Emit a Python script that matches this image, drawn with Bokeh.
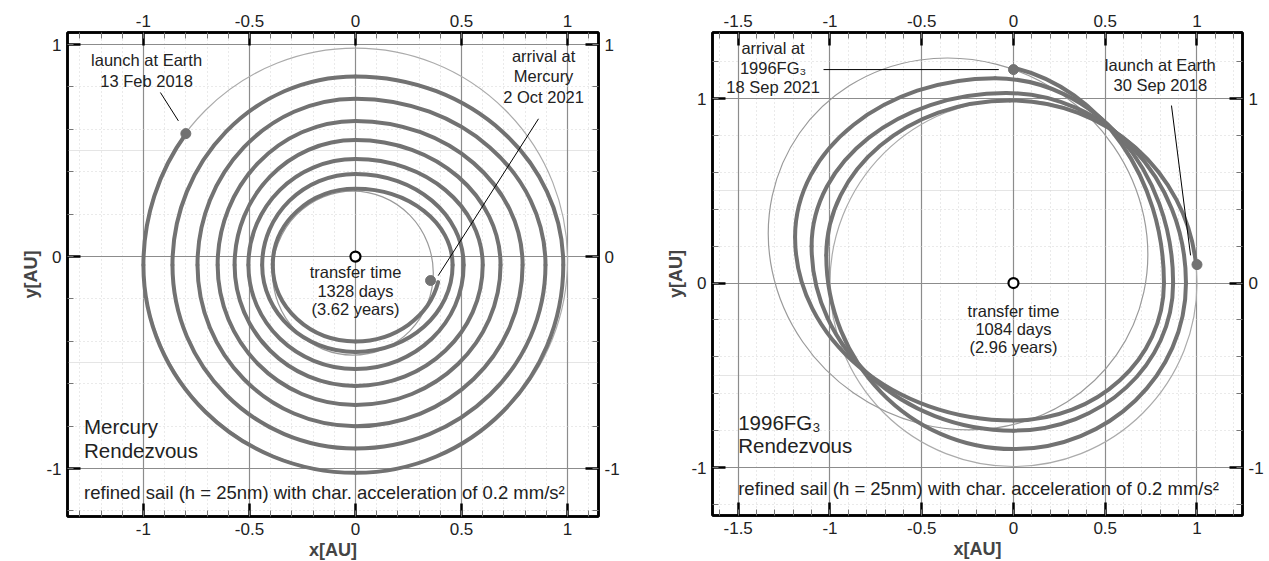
import math
from bokeh.plotting import figure
from bokeh.layouts import row
from bokeh.models import LinearAxis, FixedTicker, Range1d, ColumnDataSource, Grid
from bokeh.embed import file_html
from bokeh.resources import INLINE
from bokeh.core.properties import value

FONT = "Liberation Sans"

# ---------------- data ----------------
# left panel: Mercury rendezvous
L_xlim = (-1.358, 1.146)
L_ylim = (-1.226, 1.057)
L_xticks = [-1, -0.5, 0, 0.5, 1]
L_xtick_labels = ["-1", "-0.5", "0", "0.5", "1"]
L_yticks = [-1, 0, 1]
L_ytick_labels = ["-1", "0", "1"]
# spiral extreme points in counter-clockwise order, starting with a (virtual) top point
L_ext_x = [0.0, -1.00, 0.0, 0.98, 0.0, -0.863, 0.0, 0.896, 0.0, -0.745, 0.0, 0.788, 0.0, -0.65, 0.0, 0.684,
           0.0, -0.57, 0.0, 0.60, 0.0, -0.505, 0.0, 0.51, 0.0, -0.44, 0.0, 0.458, 0.0, -0.39, 0.0, 0.40]
L_ext_y = [0.99, -0.04, -1.02, -0.04, 0.85, -0.04, -0.905, -0.04, 0.745, -0.04, -0.80, -0.04, 0.64, -0.04, -0.70, -0.04,
           0.55, -0.04, -0.61, -0.04, 0.46, -0.04, -0.53, -0.04, 0.39, -0.04, -0.45, -0.04, 0.32, -0.04, -0.40, -0.04]
L_launch = (-0.80, 0.58)
L_arrive = (0.354, -0.113)
L_earth = dict(x=0.0, y=-0.017, r=1.0)
L_merc = dict(x=-0.012, y=-0.078, w=0.758, h=0.774)

# right panel: 1996FG3 rendezvous
R_xlim = (-1.640, 1.248)
R_ylim = (-1.260, 1.358)
R_xticks = [-1.5, -1, -0.5, 0, 0.5, 1]
R_xtick_labels = ["-1.5", "-1", "-0.5", "0", "0.5", "1"]
R_yticks = [-1, 0, 1]
R_ytick_labels = ["-1", "0", "1"]
# extreme points, counter-clockwise, starting with a (virtual) right point
R_ext_x = [1.00, -0.02, -1.02, 0.00, 0.94, -0.04, -1.10, 0.00, 0.87, -0.10, -1.19, 0.00, 0.82, -0.20]
R_ext_y = [0.00, 0.99, 0.15, -0.90, 0.00, 1.03, 0.20, -0.80, 0.00, 1.11, 0.25, -0.745, 0.00, 1.19]
R_launch = (1.0, 0.10)
R_arrive = (0.0, 1.157)
R_earth = dict(x=0.0, y=0.0, r=1.0)
R_ast = dict(x=-0.302, y=0.212, w=2.108, h=1.974, angle_deg=145.0)

TRAJ_COLOR = "#727272"
THIN_COLOR = "#ababab"


def spiral_beziers(ex, ey, first_kind, start, end):
    """Quarter-ellipse pieces between successive extreme points, as cubic beziers."""
    kinds = ["R", "T", "L", "B"]
    base = {"R": 0.0, "T": 0.5 * math.pi, "L": math.pi, "B": 1.5 * math.pi}
    k0 = kinds.index(first_kind)
    cols = {k: [] for k in ["x0", "y0", "x1", "y1", "cx0", "cy0", "cx1", "cy1"]}
    n = len(ex) - 1
    for i in range(n):
        kind = kinds[(k0 + i) % 4]
        ax_, ay_ = ex[i], ey[i]
        bx_, by_ = ex[i + 1], ey[i + 1]
        if kind in ("T", "B"):
            cx, cy = ax_, by_
        else:
            cx, cy = bx_, ay_
        rx, ry = abs(ax_ - bx_), abs(ay_ - by_)
        p1 = base[kind]
        p2 = p1 + 0.5 * math.pi
        if i == 0 and start is not None:
            a = math.atan2((start[1] - cy) / ry, (start[0] - cx) / rx)
            while a < p1 - 1e-9:
                a += 2 * math.pi
            p1 = a
        if i == n - 1 and end is not None:
            a = math.atan2((end[1] - cy) / ry, (end[0] - cx) / rx)
            while a < p1:
                a += 2 * math.pi
            p2 = a
        kk = 4.0 / 3.0 * math.tan((p2 - p1) / 4.0)
        x0 = cx + rx * math.cos(p1); y0 = cy + ry * math.sin(p1)
        x1 = cx + rx * math.cos(p2); y1 = cy + ry * math.sin(p2)
        cols["x0"].append(x0); cols["y0"].append(y0)
        cols["x1"].append(x1); cols["y1"].append(y1)
        cols["cx0"].append(x0 - kk * rx * math.sin(p1)); cols["cy0"].append(y0 + kk * ry * math.cos(p1))
        cols["cx1"].append(x1 + kk * rx * math.sin(p2)); cols["cy1"].append(y1 - kk * ry * math.cos(p2))
    return ColumnDataSource(cols)


def make_fig(xlim, ylim, xticks, xlabels, yticks, ylabels, fw, fh, bl, br):
    p = figure(frame_width=fw, frame_height=fh, x_range=Range1d(*xlim), y_range=Range1d(*ylim),
               output_backend="svg", toolbar_location=None, x_axis_location=None, y_axis_location=None,
               min_border_left=bl, min_border_right=br, min_border_top=32, min_border_bottom=44)
    p.background_fill_color = "white"
    p.outline_line_color = "black"
    p.outline_line_width = 2.5
    xminor = [round(v / 10.0, 1) for v in range(int(math.floor(xlim[0] * 10)), int(math.ceil(xlim[1] * 10)) + 1)]
    yminor = [round(v / 10.0, 1) for v in range(int(math.floor(ylim[0] * 5)) * 2, int(math.ceil(ylim[1] * 5)) * 2 + 1, 2)]
    for loc, ticks, labels, minor in (("below", xticks, xlabels, xminor), ("above", xticks, xlabels, xminor),
                                      ("left", yticks, ylabels, yminor), ("right", yticks, ylabels, yminor)):
        ax = LinearAxis(ticker=FixedTicker(ticks=ticks, minor_ticks=minor))
        ax.major_label_overrides = {t: l for t, l in zip(ticks, labels)}
        ax.major_label_text_font = FONT
        ax.major_label_text_font_size = "17px"
        ax.major_label_text_color = "#222222"
        ax.major_label_standoff = 6
        ax.major_tick_in = 13
        ax.major_tick_out = 0
        ax.major_tick_line_width = 2.5
        ax.major_tick_line_color = "black"
        ax.minor_tick_in = 6
        ax.minor_tick_out = 0
        ax.minor_tick_line_color = "#777777"
        ax.axis_line_width = 2.5
        ax.axis_line_color = "black"
        ax.axis_label_text_font = FONT
        ax.axis_label_text_font_style = "bold"
        ax.axis_label_text_font_size = "18px"
        ax.axis_label_standoff = 2
        if loc == "below":
            ax.axis_label = "x[AU]"
        if loc == "left":
            ax.axis_label = "y[AU]"
        p.add_layout(ax, loc)
    gx = Grid(dimension=0, ticker=FixedTicker(ticks=xticks, minor_ticks=xminor))
    gy = Grid(dimension=1, ticker=FixedTicker(ticks=yticks, minor_ticks=yminor))
    for g in (gx, gy):
        g.grid_line_color = "#8c8c8c"
        g.grid_line_width = 1.2
        g.minor_grid_line_color = "#d4d4d4"
        g.minor_grid_line_dash = "1 3"
        g.minor_grid_line_width = 1
        p.add_layout(g, "center")
    return p


def text(p, x, y, lines, size="16.5px", align="center", dy=None):
    src = ColumnDataSource(dict(x=[x] * len(lines), y=[y - i * dy for i in range(len(lines))], t=lines))
    p.text("x", "y", text="t", source=src, text_font=value(FONT), text_font_size=size,
           text_align=align, text_baseline="middle", text_color="#222222")


# ---------------- left figure ----------------
p1 = make_fig(L_xlim, L_ylim, L_xticks, L_xtick_labels, L_yticks, L_ytick_labels, 531, 484, 67, 45)
p1.circle(x=[L_earth["x"]], y=[L_earth["y"]], radius=L_earth["r"], fill_color=None,
          line_color=THIN_COLOR, line_width=1.2)
p1.ellipse(x=[L_merc["x"]], y=[L_merc["y"]], width=L_merc["w"], height=L_merc["h"], fill_color=None,
           line_color="#9a9a9a", line_width=1.2)
s1 = spiral_beziers(L_ext_x, L_ext_y, "T", L_launch, L_arrive)
p1.bezier("x0", "y0", "x1", "y1", "cx0", "cy0", "cx1", "cy1", source=s1, line_color=TRAJ_COLOR,
          line_width=4, line_cap="round")
p1.scatter(x=[L_launch[0], L_arrive[0]], y=[L_launch[1], L_arrive[1]], size=10, color=TRAJ_COLOR)
p1.segment(x0=[-0.92, 0.863], y0=[0.774, 0.65], x1=[-0.835, 0.39], y1=[0.64, -0.09], line_color="black", line_width=1)
p1.scatter(x=[0], y=[0], size=10, fill_color="white", line_color="black", line_width=2.2)
text(p1, -0.985, 0.925, ["launch at Earth", "13 Feb 2018"], dy=0.095)
text(p1, 0.887, 0.948, ["arrival at", "Mercury", "2 Oct 2021"], dy=0.097)
text(p1, 0.0, -0.075, ["transfer time", "1328 days", "(3.62 years)"], dy=0.085)
text(p1, -1.28, -0.80, ["Mercury", "Rendezvous"], size="20.5px", align="left", dy=0.115)
text(p1, -1.28, -1.113, ["refined sail (h = 25nm) with char. acceleration of 0.2 mm/s\u00b2"], size="18.5px", align="left", dy=0.1)

# ---------------- right figure ----------------
p2 = make_fig(R_xlim, R_ylim, R_xticks, R_xtick_labels, R_yticks, R_ytick_labels, 530, 483, 69, 25)
p2.circle(x=[R_earth["x"]], y=[R_earth["y"]], radius=R_earth["r"], fill_color=None,
          line_color=THIN_COLOR, line_width=1.2)
p2.ellipse(x=[R_ast["x"]], y=[R_ast["y"]], width=R_ast["w"], height=R_ast["h"],
           angle=math.radians(R_ast["angle_deg"]), fill_color=None, line_color="#9a9a9a", line_width=1.2)
s2 = spiral_beziers(R_ext_x, R_ext_y, "R", R_launch, R_arrive)
p2.bezier("x0", "y0", "x1", "y1", "cx0", "cy0", "cx1", "cy1", source=s2, line_color=TRAJ_COLOR,
          line_width=4, line_cap="round")
p2.scatter(x=[R_launch[0], R_arrive[0]], y=[R_launch[1], R_arrive[1]], size=10, color=TRAJ_COLOR)
p2.segment(x0=[-1.035, 0.861], y0=[1.157, 0.962], x1=[-0.08, 0.965], y1=[1.157, 0.15], line_color="black", line_width=1)
p2.scatter(x=[0], y=[0], size=10, fill_color="white", line_color="black", line_width=2.2)
text(p2, -1.31, 1.276, ["arrival at", "1996FG\u2083", "18 Sep 2021"], dy=0.108)
text(p2, 0.80, 1.184, ["launch at Earth", "30 Sep 2018"], dy=0.108)
text(p2, 0.0, -0.15, ["transfer time", "1084 days", "(2.96 years)"], dy=0.097)
text(p2, -1.50, -0.756, ["1996FG\u2083", "Rendezvous"], size="20.5px", align="left", dy=0.125)
text(p2, -1.50, -1.115, ["refined sail (h = 25nm) with char. acceleration of 0.2 mm/s\u00b2"], size="18.5px", align="left", dy=0.1)

layout = row(p1, p2)
open("out.html", "w").write(file_html(layout, INLINE))
